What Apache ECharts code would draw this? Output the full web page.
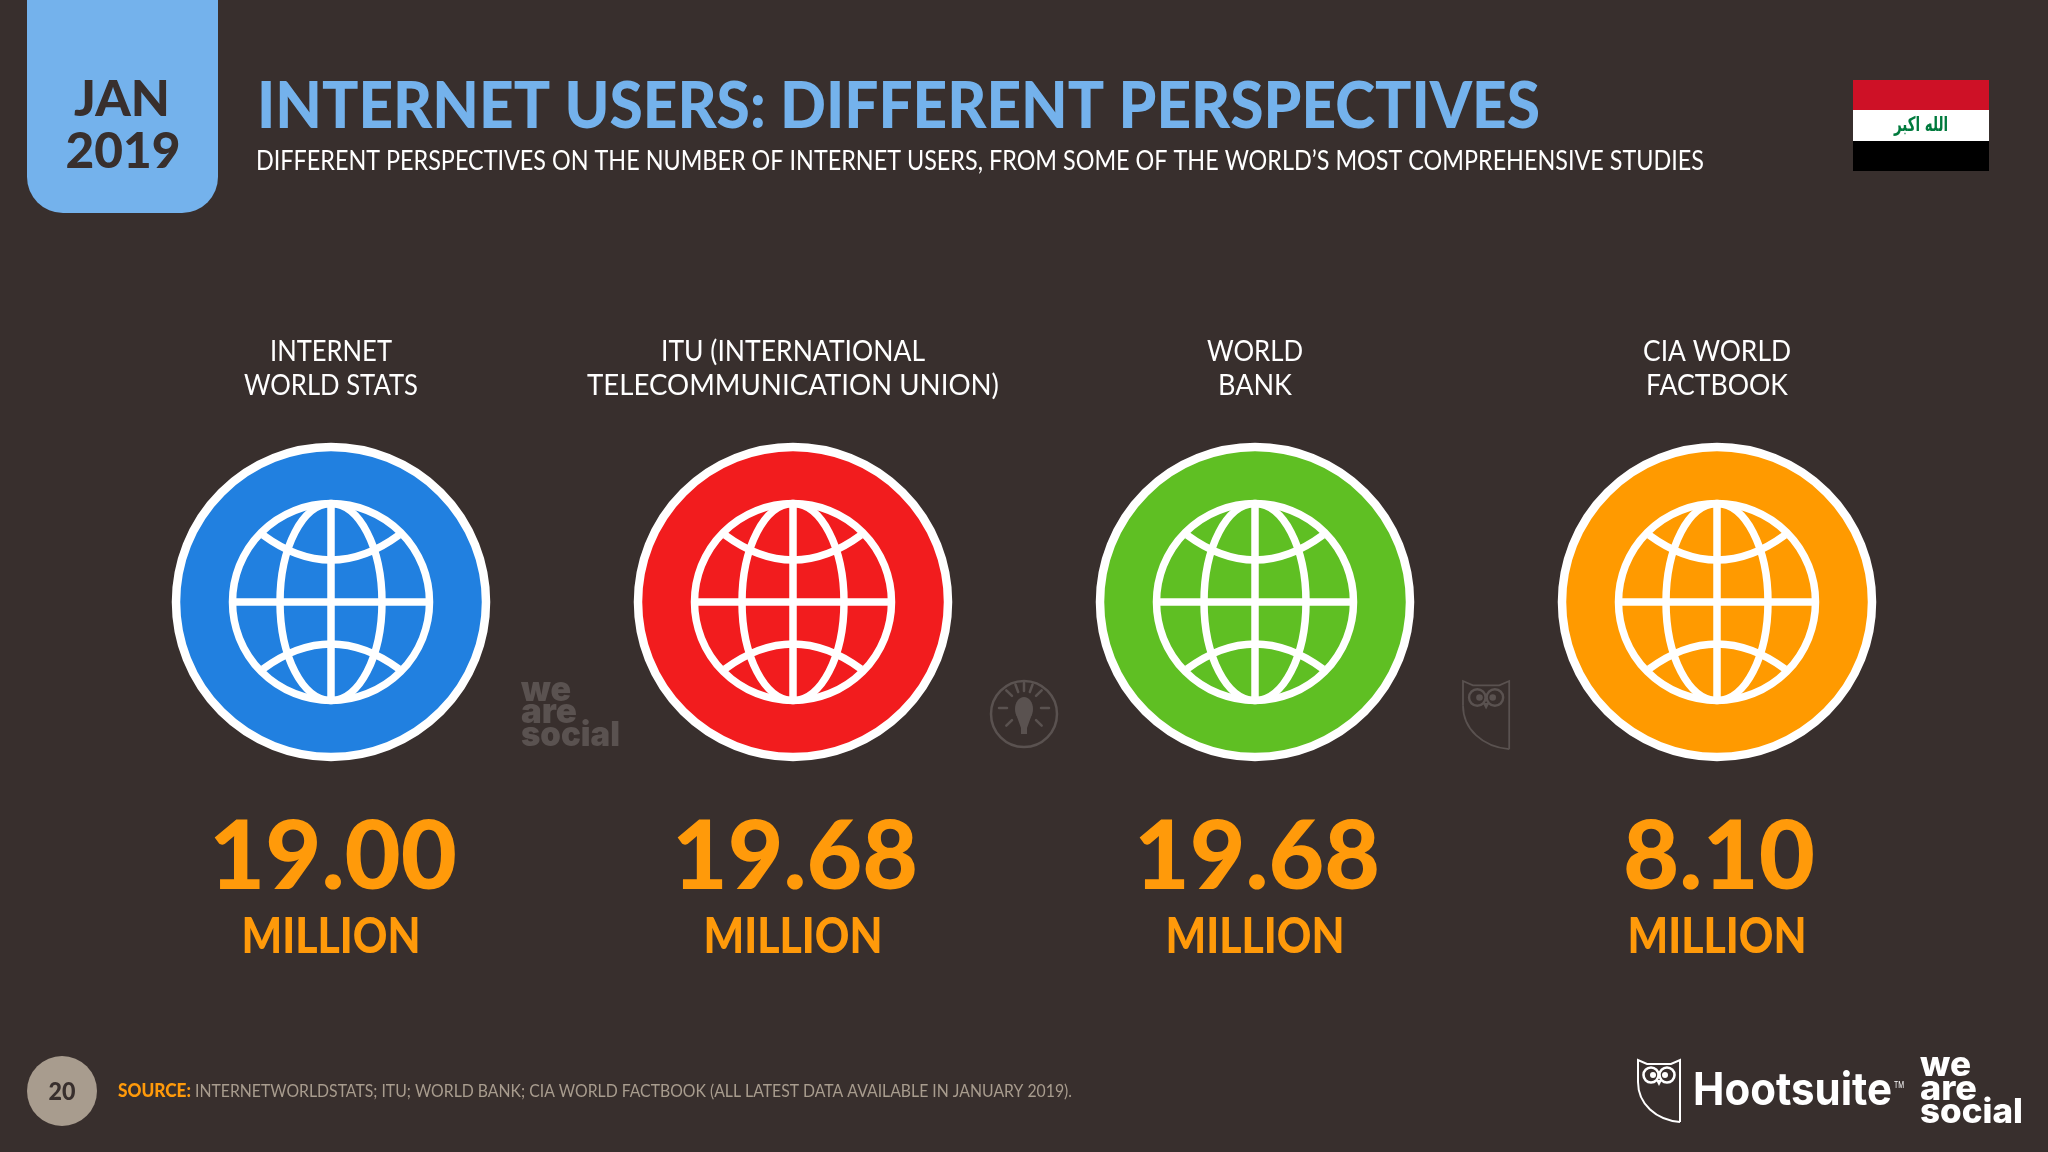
<!DOCTYPE html>
<html>
<head>
<meta charset="utf-8">
<title>Internet users: different perspectives</title>
<style>
html, body { margin: 0; padding: 0; background: #382F2D; }
#main { width: 2048px; height: 1152px; }
</style>
<script src="https://cdn.jsdelivr.net/npm/echarts@6/dist/echarts.min.js"></script>
</head>
<body>
<div id="main"></div>
<script>
// chart data
var categories = ['INTERNET\nWORLD STATS', 'ITU (INTERNATIONAL\nTELECOMMUNICATION UNION)', 'WORLD\nBANK', 'CIA WORLD\nFACTBOOK'];
var usersMillion = [19.00, 19.68, 19.68, 8.10];
var unitLabel = 'MILLION';
var circleColors = ['#2180E0', '#F21C1E', '#5FBF23', '#FF9A00'];

var titleText = 'INTERNET USERS: DIFFERENT PERSPECTIVES';
var subtitleText = 'DIFFERENT PERSPECTIVES ON THE NUMBER OF INTERNET USERS, FROM SOME OF THE WORLD\u2019S MOST COMPREHENSIVE STUDIES';
var sourceLabel = 'SOURCE:';
var sourceText = 'INTERNETWORLDSTATS; ITU; WORLD BANK; CIA WORLD FACTBOOK (ALL LATEST DATA AVAILABLE IN JANUARY 2019).';

var BG = '#382F2D', BLUE = '#74B2EC', ORANGE = '#FF9A0A', MUTED = '#A89C8E', GHOST = '#5A5250';
var FONT = 'Lato, sans-serif';
var measureCtx = document.createElement('canvas').getContext('2d');

// text element squeezed to the width measured on the reference
function fitText(text, x, y, size, weight, color, width, align, family) {
    var font = weight + ' ' + size + 'px ' + (family || FONT);
    measureCtx.font = font;
    var natural = measureCtx.measureText(text).width;
    return {
        type: 'text',
        x: x,
        y: y,
        scaleX: width ? width / natural : 1,
        style: {
            text: text, x: 0, y: 0, font: font, fill: color,
            align: align || 'center', textAlign: align || 'center',
            verticalAlign: 'middle', textVerticalAlign: 'middle'
        }
    };
}

function lineEl(x1, y1, x2, y2, color, w) {
    return {type: 'line', shape: {x1: x1, y1: y1, x2: x2, y2: y2}, style: {stroke: color, lineWidth: w, lineCap: 'round'}};
}

// owl outline, drawn in a 42x62 box
function owl(x, y, scale, color, width) {
    return {
        type: 'group', x: x, y: y, scaleX: scale, scaleY: scale,
        children: [
            {type: 'polyline', shape: {points: [[0, 22], [0, 0], [9, 4], [33, 4], [42, 0], [42, 62]]}, style: {fill: 'none', stroke: color, lineWidth: width}},
            {type: 'bezierCurve', shape: {x1: 0, y1: 22, cpx1: 0, cpy1: 44, cpx2: 18, cpy2: 60, x2: 42, y2: 62}, style: {fill: 'none', stroke: color, lineWidth: width}},
            {type: 'circle', shape: {cx: 13, cy: 15, r: 7.5}, style: {fill: 'none', stroke: color, lineWidth: width + 0.6}},
            {type: 'circle', shape: {cx: 29, cy: 15, r: 7.5}, style: {fill: 'none', stroke: color, lineWidth: width + 0.6}},
            {type: 'circle', shape: {cx: 15, cy: 15, r: 3}, style: {fill: color}},
            {type: 'circle', shape: {cx: 27, cy: 15, r: 3}, style: {fill: color}},
            {type: 'polygon', shape: {points: [[18, 20], [24, 20], [21, 26]]}, style: {fill: color}}
        ]
    };
}

function bulbWatermark(cx, cy) {
    var kids = [
        {type: 'circle', shape: {cx: cx, cy: cy, r: 33}, style: {fill: 'none', stroke: GHOST, lineWidth: 2.5}},
        {type: 'ellipse', shape: {cx: cx, cy: cy - 5, rx: 9, ry: 12}, style: {fill: GHOST}},
        {type: 'polygon', shape: {points: [[cx - 8, cy], [cx + 8, cy], [cx + 3, cy + 14], [cx + 3, cy + 20], [cx - 3, cy + 20], [cx - 3, cy + 14]]}, style: {fill: GHOST}}
    ];
    [180, 225, 250, 270, 290, 315, 0, 135, 45].forEach(function (deg) {
        var a = deg * Math.PI / 180;
        kids.push(lineEl(cx + 17 * Math.cos(a), cy - 6 + 17 * Math.sin(a), cx + 25 * Math.cos(a), cy - 6 + 25 * Math.sin(a), GHOST, 2.5));
    });
    return {type: 'group', children: kids};
}

// globe badge, header and value for one source
function renderColumn(params, api) {
    var i = api.value(0);
    var p = api.coord([i, 0]);
    var cx = p[0], cy = p[1];
    var lines = categories[i].split('\n');
    var S = 7.5;
    var kids = [
        {type: 'circle', shape: {cx: cx, cy: cy, r: 155}, style: {fill: circleColors[i], stroke: '#fff', lineWidth: 8.5}},
        {type: 'circle', shape: {cx: cx, cy: cy, r: 98.5}, style: {fill: 'none', stroke: '#fff', lineWidth: S}},
        {type: 'ellipse', shape: {cx: cx, cy: cy, rx: 51, ry: 98.5}, style: {fill: 'none', stroke: '#fff', lineWidth: S}},
        lineEl(cx, cy - 98, cx, cy + 98, '#fff', S),
        lineEl(cx - 98, cy, cx + 98, cy, '#fff', S),
        {type: 'bezierCurve', shape: {x1: cx - 68, y1: cy - 67, x2: cx + 68, y2: cy - 67, cpx1: cx, cpy1: cy - 17}, style: {fill: 'none', stroke: '#fff', lineWidth: S}},
        {type: 'bezierCurve', shape: {x1: cx - 68, y1: cy + 67, x2: cx + 68, y2: cy + 67, cpx1: cx, cpy1: cy + 17}, style: {fill: 'none', stroke: '#fff', lineWidth: S}}
    ];
    var headerWidths = [[122, 174], [264, 412], [96, 74], [148, 142]];
    kids.push(fitText(lines[0], cx, 352, 29, 400, '#fff', headerWidths[i][0]));
    kids.push(fitText(lines[1], cx, 386, 29, 400, '#fff', headerWidths[i][1]));
    var valueWidths = [248, 246, 246, 192];
    kids.push(fitText(api.value(1).toFixed(2), cx + 2, 858, 96, 900, ORANGE, valueWidths[i]));
    kids.push(fitText(unitLabel, cx, 937, 50, 900, ORANGE, 179));
    return {type: 'group', children: kids};
}

var seriesData = usersMillion.map(function (v, i) { return [i, v]; });

var option = {
    backgroundColor: BG,
    animation: false,
    grid: {left: 100, width: 1848, top: 0, bottom: 550},
    xAxis: {type: 'category', data: categories, show: false},
    yAxis: {type: 'value', min: 0, max: 25, show: false},
    series: [{
        type: 'custom',
        coordinateSystem: 'cartesian2d',
        clip: false,
        renderItem: renderColumn,
        encode: {x: 0, y: 1},
        data: seriesData
    }],
    graphic: {
        elements: [
            {type: 'rect', shape: {x: 27, y: -40, width: 191, height: 253, r: 36}, style: {fill: BLUE}},
            fitText('JAN', 122, 100, 50, 900, BG, 96),
            fitText('2019', 123, 152, 50, 900, BG, 115),
            fitText(titleText, 257, 107, 64, 900, BLUE, 1283, 'left'),
            fitText(subtitleText, 256, 162, 26, 400, '#fff', 1448, 'left'),

            // flag
            {type: 'rect', shape: {x: 1853, y: 80, width: 136, height: 30}, style: {fill: '#CE1126'}},
            {type: 'rect', shape: {x: 1853, y: 110, width: 136, height: 31}, style: {fill: '#fff'}},
            {type: 'rect', shape: {x: 1853, y: 141, width: 136, height: 30}, style: {fill: '#000'}},
            fitText('\u0627\u0644\u0644\u0647 \u0627\u0643\u0628\u0631', 1921, 126, 20, 700, '#007A3D', 54, 'center', '"DejaVu Sans"'),

            // watermarks
            fitText('we', 521, 691, 34, 900, GHOST, 50, 'left', 'Inter'),
            fitText('are', 521, 713, 34, 900, GHOST, 56, 'left', 'Inter'),
            fitText('social', 521, 736, 34, 900, GHOST, 99, 'left', 'Inter'),
            bulbWatermark(1024, 714),
            owl(1463, 681, 1.1, GHOST, 1.6),

            // footer
            {type: 'circle', shape: {cx: 62, cy: 1091, r: 35}, style: {fill: MUTED}},
            fitText('20', 62, 1092, 24, 900, BG, 27),
            fitText(sourceLabel, 118, 1091, 18, 900, ORANGE, 73, 'left'),
            fitText(sourceText, 195, 1091, 18, 400, MUTED, 877, 'left'),

            // logos
            owl(1638, 1060, 1, '#fff', 2),
            fitText('Hootsuite', 1693, 1091, 45, 700, '#fff', 199, 'left', 'Inter'),
            fitText('TM', 1894, 1085, 9, 400, '#fff', 10, 'left', 'Inter'),
            fitText('we', 1920, 1066, 34, 800, '#fff', 51, 'left', 'Inter'),
            fitText('are', 1920, 1090, 34, 800, '#fff', 57, 'left', 'Inter'),
            fitText('social', 1920, 1113, 34, 800, '#fff', 103, 'left', 'Inter')
        ]
    }
};

var chart = echarts.init(document.getElementById('main'));
chart.setOption(option);
</script>
</body>
</html>
